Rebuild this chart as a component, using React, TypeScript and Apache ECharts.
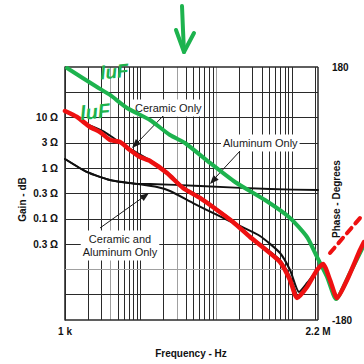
import React, { useEffect, useRef } from "react";
import * as echarts from "echarts";

// ---- axes ----
const freqMin = 1000;
const freqFrameMax = 2200000; // right edge of the framed plot
const freqMax = 8900000; // curves run past the frame up to here
const zMin = 0.001;
const zMax = 100;
const phaseMin = -180;
const phaseMax = 180;

const xGridValues = [
  2000, 3000, 4000, 5000, 6000, 7000, 8000, 9000, 10000,
  20000, 30000, 40000, 50000, 60000, 70000, 80000, 90000, 100000,
  200000, 300000, 400000, 500000, 600000, 700000, 800000, 900000, 1000000,
  2000000,
];
const xGridGray = [4000, 30000, 100000];
const xLabelValues = [1000, 2200000];
const xLabelTexts = ["1 k", "2.2 M"];

const yGridValues = [100, 31.62, 10, 3.162, 1, 0.3162, 0.1, 0.03162, 0.01, 0.003162, 0.001];
const yGridTexts = ["", "", "10 Ω", "3 Ω", "1 Ω", "0.3 Ω", "0.1 Ω", "0.3 Ω", "", "", ""];
const yGridGray = [0.01];

// ---- series: [frequency Hz, impedance Ω] ----
const green1uF: [number, number][] = [
  [1063, 95.5], [2646, 40.2], [3930, 28.0], [6592, 15.5], [13270, 8.97],
  [24380, 4.53], [38480, 3.15], [82330, 1.27], [176100, 0.534], [438500, 0.235],
  [938300, 0.104], [1573000, 0.0437], [2133000, 0.0176], [2891000, 0.00708],
  [3801000, 0.0026], [5820000, 0.00849], [8900000, 0.0303],
];
const redTrace: [number, number][] = [
  [1000, 13.5], [1441, 10.3], [2140, 6.52], [2900, 5.19], [3930, 3.61], [5328, 3.29],
  [7222, 2.29], [9790, 1.66], [13270, 1.39], [22250, 0.804], [36220, 0.406],
  [60730, 0.258], [101800, 0.149], [165700, 0.0865], [277900, 0.0437], [376700, 0.0303],
  [692100, 0.014], [938300, 0.00617], [1161000, 0.00272], [1573000, 0.00449],
  [2133000, 0.00973], [2560000, 0.0128], [3167000, 0.00617], [3919000, 0.00272],
  [5312000, 0.00617], [7889000, 0.0242], [8900000, 0.0348],
];
const ceramicOnly: [number, number][] = [
  [1237, 11.8], [1953, 7.47], [3177, 5.43], [4576, 3.78], [7222, 2.4], [13270, 1.45],
  [22250, 0.841], [36220, 0.425], [60730, 0.27], [101800, 0.156], [165700, 0.0905],
  [277900, 0.0457], [376700, 0.0318], [692100, 0.0153], [938300, 0.00708], [1161000, 0.00298],
];
const ceramicAndAluminum: [number, number][] = [
  [1000, 1.52], [1953, 0.841], [3930, 0.584], [8934, 0.49], [16420, 0.425], [24380, 0.354],
  [49090, 0.205], [101800, 0.119], [205000, 0.0721], [376700, 0.0457], [692100, 0.0211],
  [938300, 0.00973], [1234000, 0.00358], [1573000, 0.00539], [2133000, 0.00973],
];
const aluminumOnly: [number, number][] = [
  [1000, 1.52], [1953, 0.841], [3930, 0.584], [8934, 0.49], [13270, 0.487],
  [60730, 0.445], [510700, 0.388], [2200000, 0.371],
];

const FONT = "Liberation Sans, Arial, sans-serif";
const GREEN = "#1db34e";
const RED = "#ee1111";
const INK = "#1a1a1a";
const GRID = "#2a2a2a";

export default function App() {
  const ref = useRef<HTMLDivElement>(null);

  useEffect(() => {
    if (!ref.current) return;
    const chart = echarts.init(ref.current, undefined, { renderer: "svg" });

    const axisText = { color: "#111", fontWeight: "bold" as const, fontSize: 10, fontFamily: FONT };

    const gridLines: any[] = [];
    xGridValues.forEach((v) =>
      gridLines.push({
        xAxis: v,
        lineStyle: { color: xGridGray.includes(v) ? "#a0a0a0" : GRID, width: 1, type: "solid" },
        label: { show: false },
      })
    );
    xLabelValues.forEach((v, i) =>
      gridLines.push({
        xAxis: v,
        lineStyle: { color: GRID, width: i === 1 ? 1.5 : 1, type: "solid" },
        label: { show: true, position: "start", formatter: xLabelTexts[i], distance: 6, ...axisText },
      })
    );
    yGridValues.forEach((v, i) =>
      gridLines.push([
        {
          coord: [freqMin, v],
          lineStyle: {
            color: yGridGray.includes(v) ? "#a0a0a0" : GRID,
            width: v === zMin || v === zMax ? 1.5 : 1,
            type: "solid",
          },
          label: yGridTexts[i]
            ? { show: true, position: "start", formatter: yGridTexts[i], distance: 7, ...axisText }
            : { show: false },
        },
        { coord: [freqFrameMax, v] },
      ])
    );

    const curve = (name: string, data: [number, number][], color: string, width: number, z: number) => ({
      name,
      type: "line",
      data,
      showSymbol: false,
      symbol: "none",
      smooth: 0.2,
      clip: false,
      z,
      lineStyle: { color, width, cap: "round", join: "round" },
      silent: true,
    });

    const arrow = (x1: number, y1: number, x2: number, y2: number, head: number[][]) => [
      { type: "line", z: 6, silent: true, shape: { x1, y1, x2, y2 }, style: { stroke: INK, lineWidth: 1 } },
      { type: "polygon", z: 6, silent: true, shape: { points: head }, style: { fill: INK } },
    ];

    const annText = (text: string, x: number, y: number, align: string) => ({
      type: "text",
      z: 4,
      silent: true,
      x,
      y,
      style: {
        text,
        font: `11px ${FONT}`,
        fill: INK,
        align,
        verticalAlign: "middle",
        lineHeight: 13,
        backgroundColor: "#ffffff",
        padding: [2, 2],
      },
    });

    chart.setOption({
      animation: false,
      grid: { left: 65, right: 0, top: 67, bottom: 44, outerBoundsMode: "none" },
      xAxis: {
        type: "log",
        logBase: 10,
        min: freqMin,
        max: freqMax,
        axisLine: { show: false, onZero: false },
        axisTick: { show: false },
        axisLabel: { show: false },
        splitLine: { show: false },
        name: "Frequency - Hz",
        nameLocation: "middle",
        nameGap: 28,
        nameMoveOverlap: false,
        nameTextStyle: { ...axisText, padding: [0, 47, 0, 0] },
      },
      yAxis: [
        {
          type: "log",
          logBase: 10,
          min: zMin,
          max: zMax,
          axisLine: { show: true, onZero: false, lineStyle: { color: "#222", width: 1.5 } },
          axisTick: { show: false },
          axisLabel: { show: false },
          splitLine: { show: false },
          name: "Gain - dB",
          nameLocation: "middle",
          nameRotate: 90,
          nameGap: 38,
          nameMoveOverlap: false,
          nameTextStyle: { ...axisText, padding: [0, 12, 0, 0] },
        },
        {
          type: "value",
          position: "right",
          offset: -46,
          min: phaseMin,
          max: phaseMax,
          interval: 180,
          axisLine: { show: false, onZero: false },
          axisTick: { show: false },
          axisLabel: {
            ...axisText,
            margin: 14,
            formatter: (v: number) => (v === phaseMin || v === phaseMax ? String(v) : ""),
          },
          splitLine: { show: false },
          name: "Phase - Degrees",
          nameLocation: "middle",
          nameRotate: 90,
          nameGap: 13,
          nameMoveOverlap: false,
          nameTextStyle: { ...axisText, padding: [0, 11, 0, 0] },
        },
      ],
      series: [
        {
          name: "grid",
          type: "line",
          data: [],
          z: 1,
          silent: true,
          markLine: {
            silent: true,
            z: 1,
            symbol: ["none", "none"],
            animation: false,
            data: gridLines,
          },
        },
        curve("Aluminum Only", aluminumOnly, "#111", 1.8, 7),
        curve("Ceramic and Aluminum Only", ceramicAndAluminum, "#111", 2, 7),
        curve("Ceramic Only", ceramicOnly, "#111", 2, 7),
        curve("1uF", green1uF, GREEN, 4, 8),
        curve("trace", redTrace, RED, 4.5, 9),
      ],
      graphic: [
        annText("Ceramic Only", 133, 108, "left"),
        annText("Aluminum Only", 221, 143, "left"),
        annText("Ceramic and\nAluminum Only", 120, 245.5, "center"),
        ...arrow(163, 116, 138, 142, [[132, 148], [140.9, 144.1], [135.9, 139.1]]),
        ...arrow(240, 151, 216, 177, [[210, 184], [218.7, 179.7], [213.5, 174.9]]),
        ...arrow(100, 228, 142, 198, [[149, 193], [143.7, 201.1], [139.6, 195.4]]),
        // hand-drawn marks
        {
          type: "polyline", z: 10, silent: true,
          shape: { points: [[182, 6], [183, 30], [184, 52]] },
          style: { stroke: GREEN, lineWidth: 4, lineCap: "round", lineJoin: "round", fill: "none" },
        },
        {
          type: "polyline", z: 10, silent: true,
          shape: { points: [[176, 30], [184, 52], [194, 33]] },
          style: { stroke: GREEN, lineWidth: 4, lineCap: "round", lineJoin: "round", fill: "none" },
        },
        {
          type: "text", z: 10, silent: true, x: 100, y: 73, rotation: 0.1,
          style: { text: "luF", font: `italic bold 19px ${FONT}`, fill: GREEN, verticalAlign: "middle" },
        },
        {
          type: "text", z: 10, silent: true, x: 80, y: 113, rotation: 0.1,
          style: { text: "luF", font: `italic bold 20px ${FONT}`, fill: GREEN, verticalAlign: "middle" },
        },
        {
          type: "line", z: 10, silent: true,
          shape: { x1: 330, y1: 253, x2: 360, y2: 218 },
          style: { stroke: RED, lineWidth: 4, lineDash: [7, 6], lineCap: "round" },
        },
      ],
    });

    return () => chart.dispose();
  }, []);

  return (
    <div
      ref={ref}
      style={{ position: "fixed", left: 0, top: 0, width: 364, height: 364, background: "#fff" }}
    />
  );
}
